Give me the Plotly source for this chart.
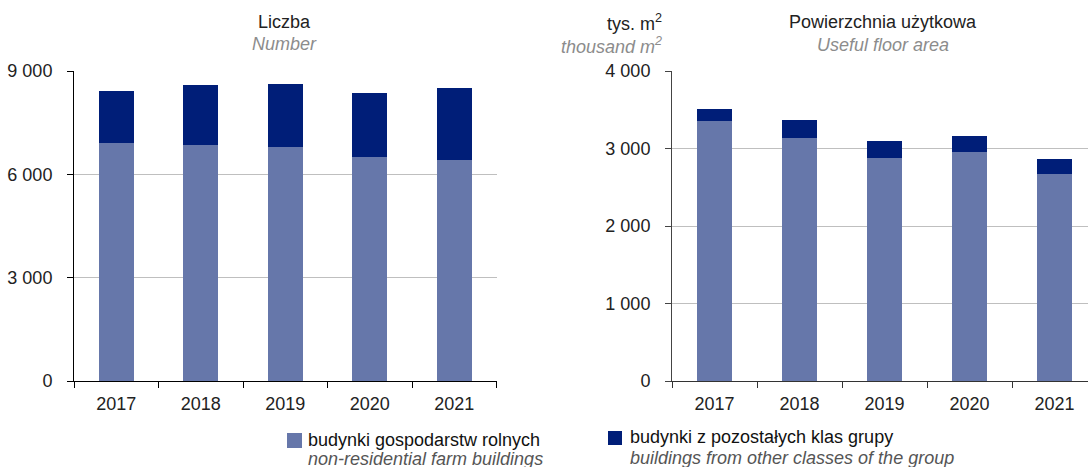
import plotly.graph_objects as go

# Data
years = ["2017", "2018", "2019", "2020", "2021"]
count_farm = [6912, 6854, 6785, 6495, 6428]
count_other = [1496, 1740, 1847, 1876, 2079]
area_farm = [3354, 3139, 2880, 2950, 2666]
area_other = [159, 232, 216, 207, 198]

series_names = ["budynki gospodarstw rolnych", "budynki z pozostałych klas grupy"]
series_names_en = ["non-residential farm buildings", "buildings from other classes of the group"]

LIGHT = "#6677AA"
DARK = "#001E78"
FONT = "Liberation Sans, Arial, sans-serif"
W, H = 1088, 467
FS = 18


def py(px):
    return 1 - px / H


def px_(x):
    return x / W


fig = go.Figure()

for vals, color, name in [(count_farm, LIGHT, series_names[0]), (count_other, DARK, series_names[1])]:
    fig.add_trace(go.Bar(x=years, y=vals, marker=dict(color=color, line=dict(width=0)),
                         width=0.41, name=name, showlegend=False, xaxis="x", yaxis="y"))
for vals, color, name in [(area_farm, LIGHT, series_names[0]), (area_other, DARK, series_names[1])]:
    fig.add_trace(go.Bar(x=years, y=vals, marker=dict(color=color, line=dict(width=0)),
                         width=0.41, name=name, showlegend=False, xaxis="x2", yaxis="y2"))

ydom = [py(381), py(71)]
common_x = dict(type="category", tickson="boundaries", ticks="outside", ticklen=6,
                showline=True, linewidth=1, automargin=False, ticklabelstandoff=6,
                tickfont=dict(family=FONT, size=FS, color="#222"), showgrid=False)
common_y = dict(ticks="outside", ticklen=6, showline=True, linewidth=1, automargin=False,
                gridcolor="#BFBFBF", gridwidth=1, zeroline=False, tickformat=",d",
                tickfont=dict(family=FONT, size=FS, color="#222"), ticklabelstandoff=11)

fig.update_layout(
    width=W, height=H, margin=dict(l=0, r=0, t=0, b=0),
    paper_bgcolor="white", plot_bgcolor="white", barmode="stack",
    separators=", ", showlegend=False,
    font=dict(family=FONT, size=FS, color="#222"),
    xaxis=dict(domain=[px_(74), px_(496.5)], range=[-0.5, 4.5], linecolor="#000",
               tickcolor="#000", anchor="y", **common_x),
    yaxis=dict(domain=ydom, range=[0, 9000], tickvals=[0, 3000, 6000, 9000],
               linecolor="#000", tickcolor="#000", anchor="x", **common_y),
    xaxis2=dict(domain=[px_(672), 1.0], range=[-0.5, 4.5 + (1088 - 1097) / 84.5],
                linecolor="#333", tickcolor="#333", anchor="y2", **common_x),
    yaxis2=dict(domain=ydom, range=[0, 4000], tickvals=[0, 1000, 2000, 3000, 4000],
                linecolor="#444", tickcolor="#444", anchor="x2", **common_y),
)

GRAY = "#8C8C8C"
annotations = [
    dict(x=px_(284), y=py(22), text="Liczba", font=dict(color="#222")),
    dict(x=px_(284), y=py(44), text="<i>Number</i>", font=dict(color=GRAY)),
    dict(x=px_(883), y=py(22), text="Powierzchnia użytkowa", font=dict(color="#222")),
    dict(x=px_(883), y=py(45), text="<i>Useful floor area</i>", font=dict(color=GRAY)),
    dict(x=px_(664), y=py(22), text="tys. m<sup>2</sup>", xanchor="right",
         font=dict(color="#222")),
    dict(x=px_(664), y=py(45), text="<i>thousand m<sup>2</sup></i>", xanchor="right",
         font=dict(color=GRAY)),
    dict(x=px_(306), y=py(440), text=series_names[0], xanchor="left",
         font=dict(color="#111")),
    dict(x=px_(306), y=py(459), text="<i>" + series_names_en[0] + "</i>", xanchor="left",
         font=dict(color="#555")),
    dict(x=px_(628), y=py(437), text=series_names[1], xanchor="left",
         font=dict(color="#111")),
    dict(x=px_(628), y=py(458), text="<i>" + series_names_en[1] + "</i>", xanchor="left",
         font=dict(color="#555")),
]
for a in annotations:
    a.update(xref="paper", yref="paper", showarrow=False, yanchor="middle",
             font=dict(family=FONT, size=FS, **a["font"]))
    a.setdefault("xanchor", "center")
fig.update_layout(annotations=annotations)

fig.add_shape(type="rect", xref="paper", yref="paper", x0=px_(287), x1=px_(302),
              y0=py(448), y1=py(433), fillcolor=LIGHT, line=dict(width=0))
fig.add_shape(type="rect", xref="paper", yref="paper", x0=px_(608), x1=px_(622),
              y0=py(445), y1=py(431), fillcolor=DARK, line=dict(width=0))

fig.write_html("out.html")
